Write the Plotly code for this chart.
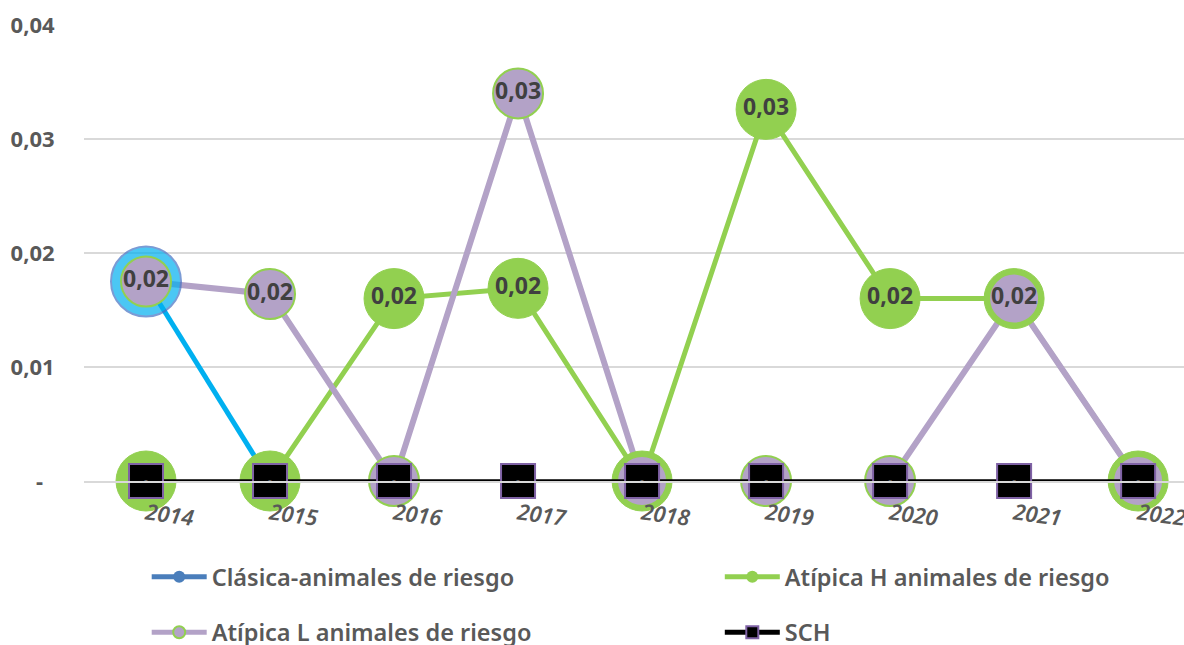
import plotly.graph_objects as go

years = ["2014", "2015", "2016", "2017", "2018", "2019", "2020", "2021", "2022"]
clasica = [0.0175, 0, None, None, None, None, None, None, None]
atipica_h = [0, 0, 0.0160, 0.0169, 0, 0.0326, 0.0160, 0.0160, 0]
atipica_l = [0.0175, 0.0164, 0, 0.0340, 0, 0, 0, 0.0160, 0]
sch = [0, 0, 0, 0, 0, 0, 0, 0, 0]

y_ticks = [0, 0.01, 0.02, 0.03, 0.04]
y_ticktext = ["-  ", "0,01", "0,02", "0,03", "0,04"]

FONT = "Noto Sans"
GREY = "#595959"
BLUE = "#00B0F0"
GREEN = "#92D050"
PURPLE = "#B3A2C7"
LABEL_FONT = dict(family=FONT, size=23, color="#404040", weight="bold")


def fmt(v, zero=""):
    if v is None:
        return ""
    if v == 0:
        return zero
    return f"{v:.2f}".replace(".", ",")


fig = go.Figure()

# lines first
fig.add_trace(go.Scatter(x=years, y=clasica, mode="lines", showlegend=False,
                         line=dict(color=BLUE, width=5)))
fig.add_trace(go.Scatter(x=years, y=atipica_h, mode="lines", showlegend=False,
                         line=dict(color=GREEN, width=5)))
fig.add_trace(go.Scatter(x=years, y=atipica_l, mode="lines", showlegend=False,
                         line=dict(color=PURPLE, width=6)))
# Excel hides the coloured segments lying on the zero line behind SCH
fig.add_trace(go.Scatter(x=years, y=sch, mode="lines", showlegend=False,
                         line=dict(color="white", width=7)))

# markers + labels
fig.add_trace(go.Scatter(
    x=years, y=clasica, mode="markers", showlegend=False, cliponaxis=False,
    marker=dict(size=[70, 0, 0, 0, 0, 0, 0, 0, 0], color=BLUE, line=dict(color="#4472C4", width=2)),
))
fig.add_trace(go.Scatter(
    x=years, y=atipica_h, mode="markers+text", showlegend=False, cliponaxis=False,
    marker=dict(size=60, color=GREEN, line=dict(color=GREEN, width=1)),
    text=[fmt(v) for v in atipica_h], textposition="middle center", textfont=LABEL_FONT,
))
fig.add_trace(go.Scatter(
    x=years, y=atipica_l, mode="markers+text", showlegend=False, cliponaxis=False,
    marker=dict(size=50, color=PURPLE, line=dict(color=GREEN, width=2)),
    text=[fmt(v) for v in atipica_l], textposition="middle center", textfont=LABEL_FONT,
))
fig.add_trace(go.Scatter(
    x=years, y=sch, mode="lines+markers+text", showlegend=False, cliponaxis=False,
    line=dict(color="black", width=3.5),
    marker=dict(symbol="square", size=34, color="black", line=dict(color="#7F62A5", width=2)),
    text=[fmt(v, "-") for v in sch], textposition="middle center",
    textfont=dict(family=FONT, size=12, color=GREY),
))

# legend entries
legend_items = [
    ("Clásica-animales de riesgo", "legend", "#4A7EBB", dict(size=12, color="#4A7EBB")),
    ("Atípica H animales de riesgo", "legend2", GREEN, dict(size=12, color=GREEN)),
    ("Atípica L animales de riesgo", "legend", PURPLE, dict(size=12, color=PURPLE, line=dict(color=GREEN, width=2))),
    ("SCH", "legend2", "black", dict(symbol="square", size=12, color="black", line=dict(color="#7F62A5", width=2))),
]
for i, (name, leg, col, mk) in enumerate(legend_items):
    fig.add_trace(go.Scatter(
        x=[None], y=[None], mode="lines+markers", name=name, legend=leg, legendgroup=str(i),
        line=dict(color=col, width=5), marker=mk,
    ))

legend_style = dict(
    orientation="v", xanchor="left", yanchor="top", y=-0.162,
    font=dict(family=FONT, size=23.5, color=GREY, weight=600),
    tracegroupgap=22, itemwidth=55, bgcolor="rgba(0,0,0,0)",
)

fig.update_layout(
    width=1184, height=645,
    margin=dict(l=84, r=0, t=25, b=164, autoexpand=False),
    plot_bgcolor="white", paper_bgcolor="white",
    font=dict(family=FONT, color=GREY),
    legend=dict(legend_style, x=0.057),
    legend2=dict(legend_style, x=0.578),
    hovermode=False,
)

fig.update_xaxes(
    type="category", range=[-0.5, 8.37],
    showgrid=False, showline=True, linecolor="#D9D9D9", linewidth=2,
    ticks="outside", ticklen=10, tickcolor="rgba(0,0,0,0)", tickangle=8,
    tickfont=dict(family=FONT, size=22, color=GREY, style="italic", weight=600),
)
fig.update_yaxes(
    range=[0, 0.04], tickvals=y_ticks, ticktext=y_ticktext,
    showgrid=True, gridcolor="#D9D9D9", gridwidth=2, zeroline=False,
    ticks="outside", ticklen=24, tickcolor="rgba(0,0,0,0)",
    tickfont=dict(family=FONT, size=22, color=GREY, weight="bold"),
)

fig.write_html("out.html", config={"displayModeBar": False},
               post_script="document.body.style.margin = '0';")
